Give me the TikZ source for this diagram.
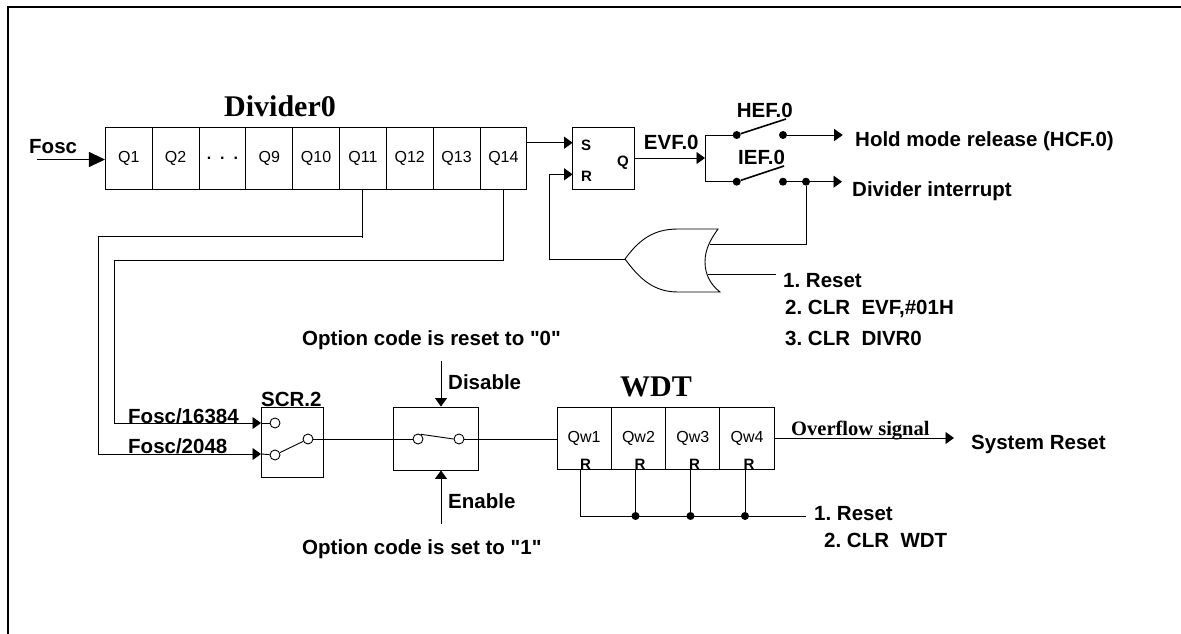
\documentclass[tikz,border=0pt]{standalone}
\usepackage{fontspec}
\setmainfont{Liberation Serif}
\newfontfamily\lblfont{Liberation Sans}
\usetikzlibrary{arrows.meta}
\frenchspacing
\tikzset{
  lbl/.style={font=\lblfont\bfseries\fontsize{20.5}{20}\selectfont,inner sep=0pt,anchor=base west},
  tiny/.style={font=\lblfont\bfseries\fontsize{15}{15}\selectfont,inner sep=0pt,anchor=base},
  cell/.style={draw,line width=.9pt,inner sep=0pt,minimum height=62pt,font=\lblfont\fontsize{16}{16}\selectfont},
  ttl/.style={font=\rmfamily\bfseries\fontsize{30}{30}\selectfont,inner sep=0pt,anchor=base},
  box/.style={draw,line width=.9pt,inner sep=0pt},
  wire/.style={line width=.9pt},
  arr/.style={wire,-{Triangle[length=8.5pt,width=12pt]}},
  blade/.style={line width=1.6pt},
  dot/.style={circle,fill=black,inner sep=0pt,minimum size=8pt},
  ring/.style={circle,draw,fill=white,line width=.9pt,inner sep=0pt,minimum size=10pt}
}
\begin{document}
\begin{tikzpicture}[x=1pt,y=-1pt]
  \useasboundingbox (0,0) rectangle (1181,634);
  \draw[line width=2.2pt] (8,634) -- (8,7) -- (1181,7);

  % divider chain
  \node[ttl] (divtitle) at (280,116) {Divider0};
  \foreach \n/\t [count=\i] in {1/Q1,2/Q2,3/{\textbf{.\ \ .\ \ .}},9/Q9,10/Q10,11/Q11,12/Q12,13/Q13,14/Q14}
    \node[cell,minimum width=46.8pt] (q\n) at ({105.4+46.82*(\i-.5)},158.3) {\raisebox{-3pt}{\t}};
  \node[lbl] (fosc) at (29,153) {Fosc};
  \coordinate (foscin) at (37,159.5);
  \draw[wire,-{Triangle[length=16pt,width=15pt]}] (foscin) -- (q1.west |- foscin);

  % SR latch
  \node[box,minimum width=62pt,minimum height=62pt] (sr) at (603.6,158.3) {};
  \node[tiny,anchor=base west] (srs) at (581,150) {S};
  \node[tiny,anchor=base west] (srr) at (581,181) {R};
  \node[tiny,anchor=base west] (srq) at (617,166) {Q};
  \coordinate (sin) at (572.6,142.7);
  \coordinate (rin) at (572.6,174.3);
  \draw[arr] (q14.east |- sin) -- (sin);

  % or gate
  \coordinate (orout) at (625,259);
  \coordinate (orina) at (710,244);
  \coordinate (orinb) at (708,274.5);
  \draw[wire] (orout) .. controls (639,240) and (653,229) .. (678,229) -- (718,229)
    .. controls (710,240) and (705,250) .. (705,262)
    .. controls (705,275) and (711,285) .. (720,292) -- (678,292)
    .. controls (653,292) and (639,278) .. (orout);
  \draw[arr] (orout) -- (549.6,259) -- (549.6,174.3) -- (rin);

  % hold and interrupt switches
  \coordinate (evfin) at (705,158);
  \draw[arr] (sr.east |- evfin) -- (evfin);
  \node[lbl] (evf) at (643.7,149) {EVF.0};
  \node[dot] (hefa) at (736.7,135) {};
  \node[dot] (hefb) at (783,135) {};
  \node[dot] (iefa) at (736.7,181.7) {};
  \node[dot] (iefb) at (783,181.7) {};
  \node[dot] (iefc) at (806,181.7) {};
  \coordinate (hefend) at (786,119);
  \coordinate (iefend) at (784,166);
  \coordinate (holdout) at (842.7,135);
  \coordinate (intout) at (842,181.7);
  \draw[wire] (hefa) -- (705,135) -- (705,181.7) -- (iefa);
  \draw[blade] (hefa) -- (hefend);
  \draw[blade] (iefa) -- (iefend);
  \draw[arr] (hefb) -- (holdout);
  \draw[arr] (iefb) -- (intout);
  \draw[wire] (iefc) -- (806,244) -- (orina);
  \draw[wire] (orinb) -- (776,274.5);
  \node[lbl] (hef) at (736.7,117.7) {HEF.0};
  \node[lbl] (ief) at (738,164) {IEF.0};
  \node[lbl] (hold) at (855,146) {Hold mode release (HCF.0)};
  \node[lbl] (inter) at (852,196) {Divider interrupt};
  \node[lbl] (rsta) at (783,287) {1. Reset};
  \node[lbl] (rstb) at (785,314) {2. CLR\ \ EVF,\#01H};
  \node[lbl] (rstc) at (785,345) {3. CLR\ \ DIVR0};

  % clock select
  \node[box,minimum width=62pt,minimum height=70pt] (scr) at (292,442) {};
  \node[lbl] (scrname) at (261,406) {SCR.2};
  \node[ring] (scra) at (275,423) {};
  \node[ring] (scrb) at (275,455) {};
  \node[ring] (scrc) at (308,439) {};
  \draw[wire] (scrb) -- (scrc);
  \coordinate (ina) at (261,423);
  \coordinate (inb) at (261,454);
  \draw[wire] (362.5,189) -- (362.5,238) (362.5,236) -- (98,236) -- (98,454);
  \draw[arr] (98,454) -- (inb);
  \draw[wire] (503,189) -- (503,260) -- (114,260) -- (114,423);
  \draw[arr] (114,423) -- (ina);
  \draw[wire] (ina) -- (scra);
  \draw[wire] (inb) -- (scrb);
  \node[lbl] (fa) at (128,423) {Fosc/16384};
  \node[lbl] (fb) at (128,453) {Fosc/2048};

  % option switch
  \node[box,minimum width=85pt,minimum height=63pt] (opt) at (435.5,438.5) {};
  \node[ring] (opta) at (418,439) {};
  \node[ring] (optb) at (459,439) {};
  \draw[wire] (opta.60) -- (optb.180);
  \coordinate (disin) at (441,361);
  \coordinate (enin) at (441,524);
  \draw[arr] (disin) -- (disin |- opt.north);
  \draw[arr] (enin) -- (enin |- opt.south);
  \node[lbl] (dis) at (448,389) {Disable};
  \node[lbl] (ena) at (448,508) {Enable};
  \node[lbl] (optr) at (302,345) {Option code is reset to "0"};
  \node[lbl] (opts) at (302,554) {Option code is set to "1"};

  % watchdog
  \node[ttl] (wdtitle) at (656,396) {WDT};
  \foreach \i in {1,...,4} {
    \node[cell,minimum width=54.3pt] (w\i) at ({557+54.3*(\i-.5)},438.5) {\raisebox{-3pt}{Qw\i}};
    \node[tiny] (r\i) at ({531+54.5*\i},469) {R};
  }
  \coordinate (wclr) at (580.6,516);
  \node[dot] (wb) at (635.5,516) {};
  \node[dot] (wc) at (690.5,516) {};
  \node[dot] (wd) at (745,516) {};
  \coordinate (wend) at (806,516);
  \draw[wire] (r1.south -| wclr) -- (wclr) -- (wend);
  \draw[wire] (wb) -- (wb |- w2.south);
  \draw[wire] (wc) -- (wc |- w3.south);
  \draw[wire] (wd) -- (wd |- w4.south);
  \draw[wire] (scrc) -- (opta);
  \draw[wire] (optb) -- (w1.west |- optb);
  \coordinate (sysout) at (954,438);
  \draw[arr] (w4.east |- sysout) -- (sysout);
  \node[font=\rmfamily\bfseries\fontsize{20.5}{20}\selectfont,inner sep=0pt,anchor=base west] (ovf) at (791,435) {Overflow signal};
  \node[lbl] (sys) at (971,449) {System Reset};
  \node[lbl] (wrsa) at (814,520) {1. Reset};
  \node[lbl] (wrsb) at (824,547) {2. CLR\ \ WDT};
\end{tikzpicture}
\end{document}
